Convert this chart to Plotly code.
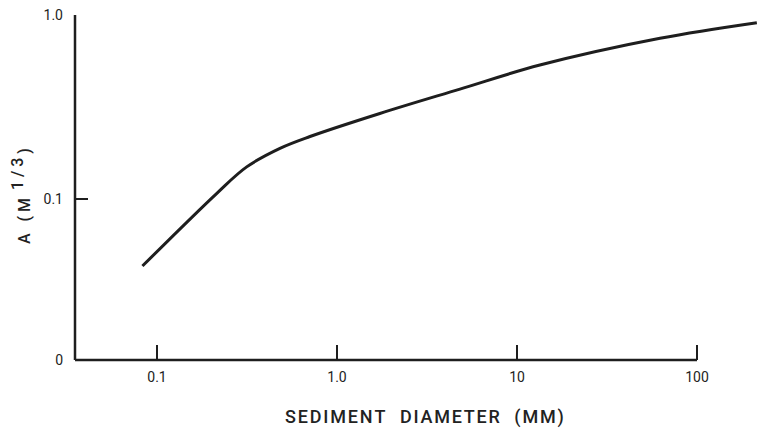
import plotly.graph_objects as go

# Dean profile scale parameter A as a function of sediment diameter
diameter_mm = [0.083, 0.215, 0.315, 0.482, 0.708, 1.73, 4.82, 13.4, 62.3, 215]
a_param = [0.043, 0.107, 0.149, 0.188, 0.218, 0.291, 0.395, 0.534, 0.747, 0.908]

x_tick_vals = [0.1, 1.0, 10, 100]
x_tick_text = ["0.1", "1.0", "10", "100"]
y_floor = 10 ** -1.878
y_tick_vals = [y_floor, 0.1, 1.0]
y_tick_text = ["0", "0.1", "1.0"]

x_title = "SEDIMENT  DIAMETER  (MM)"

x_lo_log = -1.4556
x_hi_log = 2.350

ink = "#1e1e1e"
font_family = "Roboto, Liberation Sans, Arial, sans-serif"


def spaced(text, gap="\u200a"):
    """Insert a hair space between letters to widen the tracking."""
    return gap.join(text).replace(" ", "&nbsp;")


y_title_html = ("A&nbsp;&nbsp;&nbsp;( M&nbsp; "
                "<sup><span style='font-size:16px'>1 / 3</span></sup>"
                " )")

fig = go.Figure()
fig.add_trace(go.Scatter(
    x=diameter_mm, y=a_param, mode="lines",
    line=dict(color=ink, width=3, shape="spline", smoothing=1.0),
    hoverinfo="skip", showlegend=False,
))

fig.update_layout(
    width=760, height=428,
    margin=dict(l=75, r=0, t=15, b=68),
    paper_bgcolor="white", plot_bgcolor="white",
    font=dict(family=font_family, color="#222", size=14),
    xaxis=dict(
        type="log", range=[x_lo_log, x_hi_log],
        showgrid=False, zeroline=False, showline=False,
        tickmode="array", tickvals=x_tick_vals, ticktext=x_tick_text,
        ticks="inside", ticklen=15, tickwidth=2, tickcolor=ink,
        ticklabelstandoff=7,
    ),
    yaxis=dict(
        type="log", range=[-1.878, 0],
        showgrid=False, zeroline=False, showline=False,
        tickmode="array", tickvals=y_tick_vals, ticktext=y_tick_text,
        ticks="inside", ticklen=13, tickwidth=2, tickcolor=ink,
        ticklabelstandoff=11,
    ),
    shapes=[
        # horizontal axis stops at 100 mm
        dict(type="line", xref="x", yref="paper",
             x0=10 ** x_lo_log, x1=100, y0=0, y1=0,
             line=dict(color=ink, width=2.5)),
        # vertical axis up to A = 1.0
        dict(type="line", xref="paper", yref="paper",
             x0=0, x1=0, y0=0, y1=1,
             line=dict(color=ink, width=2.5)),
    ],
    annotations=[
        dict(text=spaced(x_title),
             xref="paper", yref="paper", x=(424 - 75) / 685, y=-(417 - 360) / 345,
             xanchor="center", yanchor="middle", showarrow=False,
             font=dict(size=18, color="#222", weight=500)),
        dict(text=y_title_html,
             xref="paper", yref="paper", x=-(75 - 21) / 685, y=(360 - 196) / 345,
             xanchor="center", yanchor="middle", showarrow=False, textangle=-90,
             font=dict(size=16, color="#222", weight=500)),
    ],
)

fig.write_html("out.html")
